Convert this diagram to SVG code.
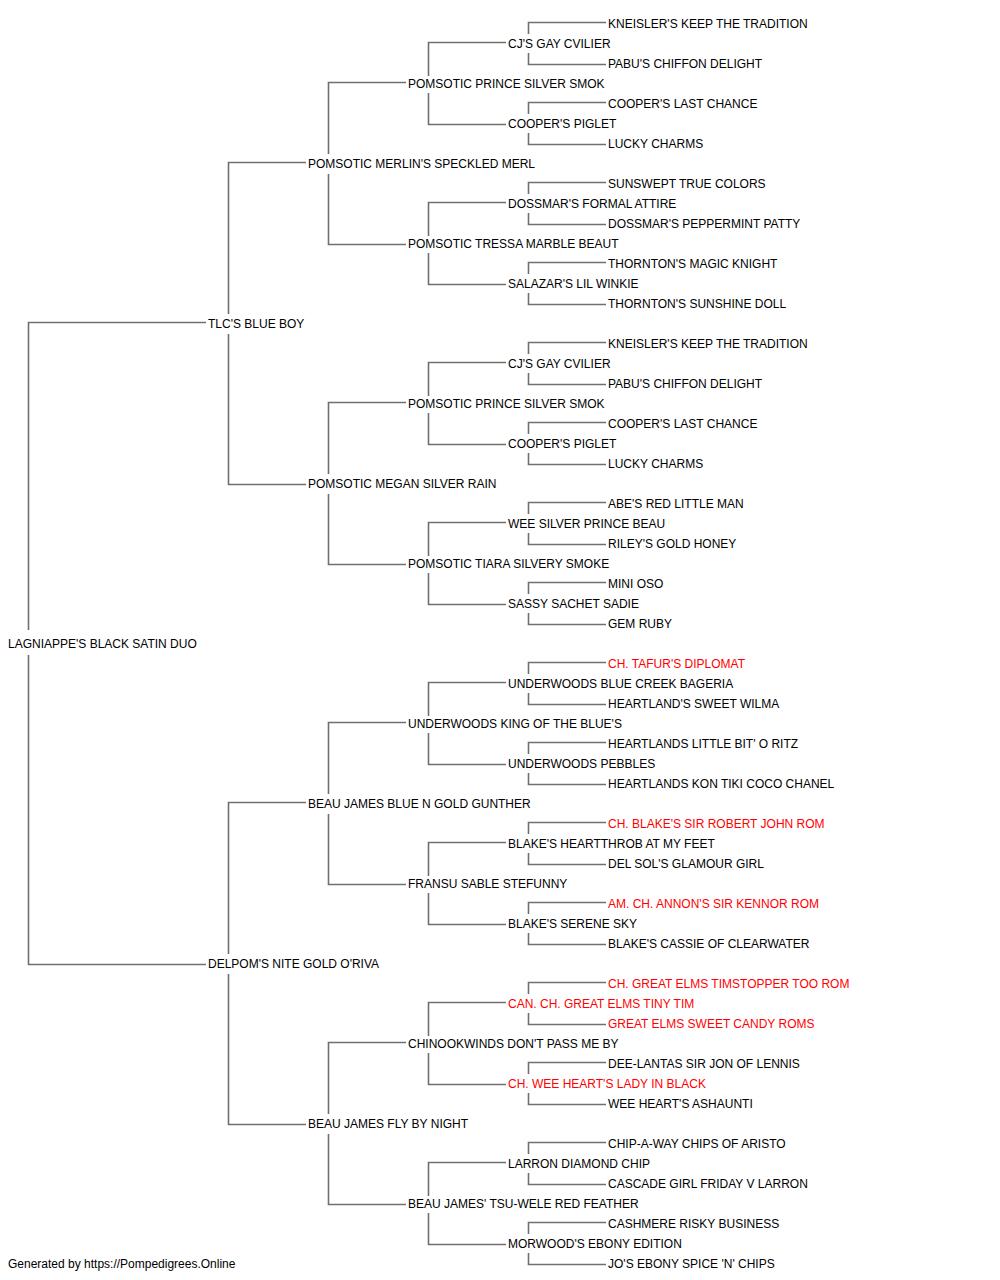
<svg xmlns="http://www.w3.org/2000/svg" width="1000" height="1280" viewBox="0 0 1000 1280">
<style>
text{font-family:"Liberation Sans",Arial,sans-serif;font-size:12px;fill:#000}
text.ch{fill:#ff0000}
.c path{fill:none;stroke:#707070;stroke-width:1.6}
</style>
<rect width="1000" height="1280" fill="#fff"/>
<g class="c" id="connectors">
<path d="M206,322.5 H28.5 V630 M28.5,655 V964.5 H206"/>
<path d="M306,162.5 H228.5 V314 M228.5,334 V484.5 H306"/>
<path d="M306,802.5 H228.5 V954 M228.5,974 V1124.5 H306"/>
<path d="M406,82.5 H328.5 V154 M328.5,174 V244.5 H406"/>
<path d="M406,402.5 H328.5 V474 M328.5,494 V564.5 H406"/>
<path d="M406,722.5 H328.5 V794 M328.5,814 V884.5 H406"/>
<path d="M406,1042.5 H328.5 V1114 M328.5,1134 V1204.5 H406"/>
<path d="M506,42.5 H428.5 V76 M428.5,93 V124.5 H506"/>
<path d="M506,202.5 H428.5 V236 M428.5,253 V284.5 H506"/>
<path d="M506,362.5 H428.5 V396 M428.5,413 V444.5 H506"/>
<path d="M506,522.5 H428.5 V556 M428.5,573 V604.5 H506"/>
<path d="M506,682.5 H428.5 V716 M428.5,733 V764.5 H506"/>
<path d="M506,842.5 H428.5 V876 M428.5,893 V924.5 H506"/>
<path d="M506,1002.5 H428.5 V1036 M428.5,1053 V1084.5 H506"/>
<path d="M506,1162.5 H428.5 V1196 M428.5,1213 V1244.5 H506"/>
<path d="M606,22.5 H528.5 V34 M528.5,53 V64.5 H606"/>
<path d="M606,102.5 H528.5 V114 M528.5,133 V144.5 H606"/>
<path d="M606,182.5 H528.5 V194 M528.5,213 V224.5 H606"/>
<path d="M606,262.5 H528.5 V274 M528.5,293 V304.5 H606"/>
<path d="M606,342.5 H528.5 V354 M528.5,373 V384.5 H606"/>
<path d="M606,422.5 H528.5 V434 M528.5,453 V464.5 H606"/>
<path d="M606,502.5 H528.5 V514 M528.5,533 V544.5 H606"/>
<path d="M606,582.5 H528.5 V594 M528.5,613 V624.5 H606"/>
<path d="M606,662.5 H528.5 V674 M528.5,693 V704.5 H606"/>
<path d="M606,742.5 H528.5 V754 M528.5,773 V784.5 H606"/>
<path d="M606,822.5 H528.5 V834 M528.5,853 V864.5 H606"/>
<path d="M606,902.5 H528.5 V914 M528.5,933 V944.5 H606"/>
<path d="M606,982.5 H528.5 V994 M528.5,1013 V1024.5 H606"/>
<path d="M606,1062.5 H528.5 V1074 M528.5,1093 V1104.5 H606"/>
<path d="M606,1142.5 H528.5 V1154 M528.5,1173 V1184.5 H606"/>
<path d="M606,1222.5 H528.5 V1234 M528.5,1253 V1264.5 H606"/>
</g>
<g id="n0"><text x="8" y="648">LAGNIAPPE'S BLACK SATIN DUO</text></g>
<g id="n1"><text x="208" y="328">TLC'S BLUE BOY</text></g>
<g id="n2"><text x="208" y="968">DELPOM'S NITE GOLD O'RIVA</text></g>
<g id="n3"><text x="308" y="168">POMSOTIC MERLIN'S SPECKLED MERL</text></g>
<g id="n4"><text x="308" y="488">POMSOTIC MEGAN SILVER RAIN</text></g>
<g id="n5"><text x="308" y="808">BEAU JAMES BLUE N GOLD GUNTHER</text></g>
<g id="n6"><text x="308" y="1128">BEAU JAMES FLY BY NIGHT</text></g>
<g id="n7"><text x="408" y="88">POMSOTIC PRINCE SILVER SMOK</text></g>
<g id="n8"><text x="408" y="248">POMSOTIC TRESSA MARBLE BEAUT</text></g>
<g id="n9"><text x="408" y="408">POMSOTIC PRINCE SILVER SMOK</text></g>
<g id="n10"><text x="408" y="568">POMSOTIC TIARA SILVERY SMOKE</text></g>
<g id="n11"><text x="408" y="728">UNDERWOODS KING OF THE BLUE'S</text></g>
<g id="n12"><text x="408" y="888">FRANSU SABLE STEFUNNY</text></g>
<g id="n13"><text x="408" y="1048">CHINOOKWINDS DON'T PASS ME BY</text></g>
<g id="n14"><text x="408" y="1208">BEAU JAMES' TSU-WELE RED FEATHER</text></g>
<g id="n15"><text x="508" y="48">CJ'S GAY CVILIER</text></g>
<g id="n16"><text x="508" y="128">COOPER'S PIGLET</text></g>
<g id="n17"><text x="508" y="208">DOSSMAR'S FORMAL ATTIRE</text></g>
<g id="n18"><text x="508" y="288">SALAZAR'S LIL WINKIE</text></g>
<g id="n19"><text x="508" y="368">CJ'S GAY CVILIER</text></g>
<g id="n20"><text x="508" y="448">COOPER'S PIGLET</text></g>
<g id="n21"><text x="508" y="528">WEE SILVER PRINCE BEAU</text></g>
<g id="n22"><text x="508" y="608">SASSY SACHET SADIE</text></g>
<g id="n23"><text x="508" y="688">UNDERWOODS BLUE CREEK BAGERIA</text></g>
<g id="n24"><text x="508" y="768">UNDERWOODS PEBBLES</text></g>
<g id="n25"><text x="508" y="848">BLAKE'S HEARTTHROB AT MY FEET</text></g>
<g id="n26"><text x="508" y="928">BLAKE'S SERENE SKY</text></g>
<g id="n27"><text class="ch" x="508" y="1008">CAN. CH. GREAT ELMS TINY TIM</text></g>
<g id="n28"><text class="ch" x="508" y="1088">CH. WEE HEART'S LADY IN BLACK</text></g>
<g id="n29"><text x="508" y="1168">LARRON DIAMOND CHIP</text></g>
<g id="n30"><text x="508" y="1248">MORWOOD'S EBONY EDITION</text></g>
<g id="n31"><text x="608" y="28">KNEISLER'S KEEP THE TRADITION</text></g>
<g id="n32"><text x="608" y="68">PABU'S CHIFFON DELIGHT</text></g>
<g id="n33"><text x="608" y="108">COOPER'S LAST CHANCE</text></g>
<g id="n34"><text x="608" y="148">LUCKY CHARMS</text></g>
<g id="n35"><text x="608" y="188">SUNSWEPT TRUE COLORS</text></g>
<g id="n36"><text x="608" y="228">DOSSMAR'S PEPPERMINT PATTY</text></g>
<g id="n37"><text x="608" y="268">THORNTON'S MAGIC KNIGHT</text></g>
<g id="n38"><text x="608" y="308">THORNTON'S SUNSHINE DOLL</text></g>
<g id="n39"><text x="608" y="348">KNEISLER'S KEEP THE TRADITION</text></g>
<g id="n40"><text x="608" y="388">PABU'S CHIFFON DELIGHT</text></g>
<g id="n41"><text x="608" y="428">COOPER'S LAST CHANCE</text></g>
<g id="n42"><text x="608" y="468">LUCKY CHARMS</text></g>
<g id="n43"><text x="608" y="508">ABE'S RED LITTLE MAN</text></g>
<g id="n44"><text x="608" y="548">RILEY'S GOLD HONEY</text></g>
<g id="n45"><text x="608" y="588">MINI OSO</text></g>
<g id="n46"><text x="608" y="628">GEM RUBY</text></g>
<g id="n47"><text class="ch" x="608" y="668">CH. TAFUR'S DIPLOMAT</text></g>
<g id="n48"><text x="608" y="708">HEARTLAND'S SWEET WILMA</text></g>
<g id="n49"><text x="608" y="748">HEARTLANDS LITTLE BIT' O RITZ</text></g>
<g id="n50"><text x="608" y="788">HEARTLANDS KON TIKI COCO CHANEL</text></g>
<g id="n51"><text class="ch" x="608" y="828">CH. BLAKE'S SIR ROBERT JOHN ROM</text></g>
<g id="n52"><text x="608" y="868">DEL SOL'S GLAMOUR GIRL</text></g>
<g id="n53"><text class="ch" x="608" y="908">AM. CH. ANNON'S SIR KENNOR ROM</text></g>
<g id="n54"><text x="608" y="948">BLAKE'S CASSIE OF CLEARWATER</text></g>
<g id="n55"><text class="ch" x="608" y="988">CH. GREAT ELMS TIMSTOPPER TOO ROM</text></g>
<g id="n56"><text class="ch" x="608" y="1028">GREAT ELMS SWEET CANDY ROMS</text></g>
<g id="n57"><text x="608" y="1068">DEE-LANTAS SIR JON OF LENNIS</text></g>
<g id="n58"><text x="608" y="1108">WEE HEART'S ASHAUNTI</text></g>
<g id="n59"><text x="608" y="1148">CHIP-A-WAY CHIPS OF ARISTO</text></g>
<g id="n60"><text x="608" y="1188">CASCADE GIRL FRIDAY V LARRON</text></g>
<g id="n61"><text x="608" y="1228">CASHMERE RISKY BUSINESS</text></g>
<g id="n62"><text x="608" y="1268">JO'S EBONY SPICE 'N' CHIPS</text></g>
<g id="footer"><text x="8" y="1268">Generated by https://Pompedigrees.Online</text></g>
</svg>
